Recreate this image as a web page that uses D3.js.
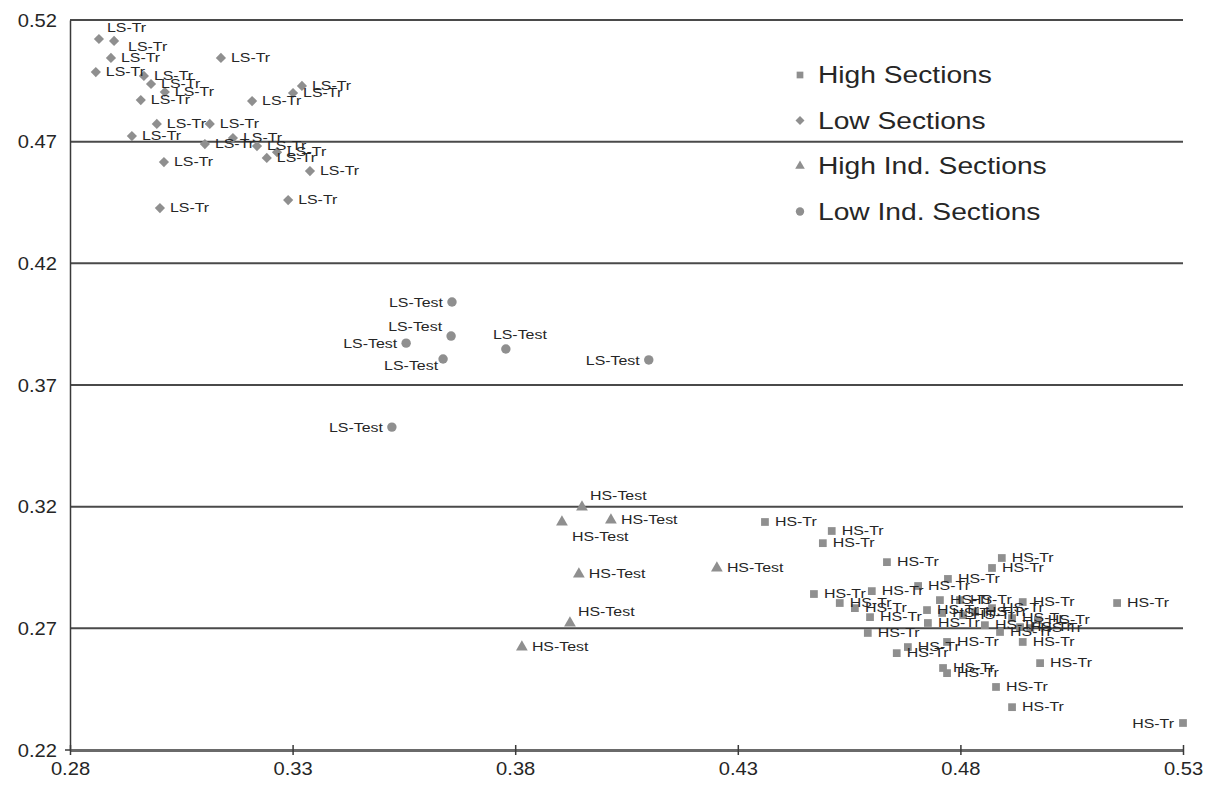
<!DOCTYPE html>
<html>
<head>
<meta charset="utf-8">
<script src="https://cdn.jsdelivr.net/npm/d3@7"></script>
<style>
  html, body { margin: 0; padding: 0; background: #fff; }
  svg { display: block; }
</style>
</head>
<body>
<svg id="chart" width="1220" height="789"></svg>
<script>
// ---------- DATA ----------
const xTicks = [0.28, 0.33, 0.38, 0.43, 0.48, 0.53];
const yTicks = [0.22, 0.27, 0.32, 0.37, 0.42, 0.47, 0.52];
const xTickLabels = ["0.28", "0.33", "0.38", "0.43", "0.48", "0.53"];
const yTickLabels = ["0.22", "0.27", "0.32", "0.37", "0.42", "0.47", "0.52"];

const seriesNames = ["High Sections", "Low Sections", "High Ind. Sections", "Low Ind. Sections"];
const seriesLabels = ["HS-Tr", "LS-Tr", "HS-Test", "LS-Test"];

// High Sections (HS-Tr)
const highX = [0.4361, 0.4511, 0.4491, 0.4635, 0.4893, 0.4871, 0.4772, 0.4471, 0.4601, 0.4705,
               0.4529, 0.4563, 0.4597, 0.4725, 0.4754, 0.4759, 0.4806, 0.4871, 0.4940, 0.5152,
               0.4916, 0.4934, 0.4974, 0.4592, 0.4727, 0.4770, 0.4889, 0.4940, 0.4682, 0.4657,
               0.4761, 0.4770, 0.4979, 0.4880, 0.4916, 0.5300, 0.4799, 0.4833, 0.4855, 0.4957];
const highY = [0.3137, 0.3100, 0.3050, 0.2972, 0.2989, 0.2948, 0.2903, 0.2841, 0.2853, 0.2874,
               0.2804, 0.2783, 0.2746, 0.2775, 0.2816, 0.2763, 0.2754, 0.2783, 0.2808, 0.2804,
               0.2742, 0.2705, 0.2734, 0.2681, 0.2722, 0.2644, 0.2685, 0.2644, 0.2623, 0.2598,
               0.2537, 0.2516, 0.2557, 0.2459, 0.2376, 0.2311, 0.2816, 0.2767, 0.2713, 0.2701];
const highLabelSide = highX.map((v, i) => i === 35 ? "left" : "right");

// Low Sections (LS-Tr)
const lowX = [0.2865, 0.2899, 0.2892, 0.2858, 0.2982, 0.3013, 0.2966, 0.2959, 0.3139, 0.3209,
              0.3321, 0.3301, 0.2995, 0.3114, 0.2939, 0.3103, 0.3166, 0.3220, 0.3265, 0.3242,
              0.3339, 0.3011, 0.3290, 0.3002];
const lowY = [0.5122, 0.5114, 0.5044, 0.4986, 0.4937, 0.4904, 0.4970, 0.4871, 0.5044, 0.4867,
              0.4929, 0.4900, 0.4773, 0.4773, 0.4723, 0.4690, 0.4715, 0.4682, 0.4657, 0.4633,
              0.4579, 0.4616, 0.4460, 0.4427];
const lowLabelSide = lowX.map((v, i) => i === 0 ? "above" : (i === 1 ? "rightLow" : "right"));

// High Ind. Sections (HS-Test)
const highIndX = [0.3950, 0.3905, 0.4015, 0.3943, 0.4253, 0.3923, 0.3815];
const highIndY = [0.3198, 0.3137, 0.3145, 0.2923, 0.2948, 0.2722, 0.2623];
const highIndLabelSide = ["above", "below", "right", "right", "right", "above", "right"];

// Low Ind. Sections (LS-Test)
const lowIndX = [0.3658, 0.3656, 0.3555, 0.3638, 0.3779, 0.4100, 0.3523];
const lowIndY = [0.4041, 0.3901, 0.3872, 0.3807, 0.3848, 0.3803, 0.3527];
const lowIndLabelSide = ["left", "leftAbove", "left", "leftBelow", "aboveCenter", "left", "left"];

// ---------- CHART ----------
const svg = d3.select("#chart");
const W = 1220, H = 789;
const m = { left: 70, right: 37, top: 20, bottom: 39 };
const x = d3.scaleLinear().domain([0.28, 0.53]).range([m.left, W - m.right]);
const y = d3.scaleLinear().domain([0.22, 0.52]).range([H - m.bottom, m.top]);

const markerFill = "#8f8f8f";
const textColor = "#262626";
const font = "'Liberation Sans', Arial, Helvetica, sans-serif";
const stretch = 1.18; // horizontal stretch of the reference's text

function placeText(sel, px, py, anchor, size, sx) {
  sel.attr("transform", `translate(${px},${py}) scale(${sx},1)`)
     .attr("x", 0).attr("y", 0)
     .attr("text-anchor", anchor)
     .attr("font-family", font)
     .attr("font-size", size)
     .attr("fill", textColor);
}

// gridlines
svg.append("g")
  .selectAll("line")
  .data(yTicks.slice(1))
  .join("line")
  .attr("x1", x(0.28)).attr("x2", x(0.53))
  .attr("y1", d => y(d)).attr("y2", d => y(d))
  .attr("stroke", "#4a4a4a").attr("stroke-width", 2);

// y axis
const yAxis = d3.axisLeft(y).tickValues(yTicks).tickFormat((d, i) => yTickLabels[i]).tickSize(0).tickPadding(0);
const gy = svg.append("g").attr("transform", `translate(${m.left},0)`).call(yAxis);
gy.select(".domain").attr("stroke", "#3a3a3a").attr("stroke-width", 1.5);
gy.selectAll(".tick text").each(function () {
  placeText(d3.select(this), -13, 0, "end", 18, 1.12);
  d3.select(this).attr("dy", "0.35em");
});

// x axis
const xAxis = d3.axisBottom(x).tickValues(xTicks).tickFormat((d, i) => xTickLabels[i]).tickSizeInner(5).tickSizeOuter(0).tickPadding(6);
const gx = svg.append("g").attr("transform", `translate(0,${y(0.22)})`).call(xAxis);
gx.select(".domain").attr("stroke", "#6a6a6a").attr("stroke-width", 3);
gx.selectAll(".tick line").attr("stroke", "#3a3a3a").attr("stroke-width", 1.5).attr("y1", -5);
gx.selectAll(".tick text").each(function () {
  placeText(d3.select(this), 0, 12, "middle", 18, 1.12);
  d3.select(this).attr("dy", "0.71em");
});
// y tick at 0.22
svg.append("line").attr("x1", m.left - 5).attr("x2", m.left).attr("y1", y(0.22)).attr("y2", y(0.22))
  .attr("stroke", "#3a3a3a").attr("stroke-width", 1.5);

// series
const series = [
  { xs: highX, ys: highY, sides: highLabelSide, label: seriesLabels[0], sym: d3.symbolSquare, size: 60, rot: 0 },
  { xs: lowX, ys: lowY, sides: lowLabelSide, label: seriesLabels[1], sym: d3.symbolSquare, size: 52, rot: 45 },
  { xs: highIndX, ys: highIndY, sides: highIndLabelSide, label: seriesLabels[2], sym: d3.symbolTriangle, size: 60, rot: 0 },
  { xs: lowIndX, ys: lowIndY, sides: lowIndLabelSide, label: seriesLabels[3], sym: d3.symbolCircle, size: 70, rot: 0 }
];

const labelOffset = {
  right:       { dx: 10,  dy: 4,   anchor: "start" },
  rightLow:    { dx: 14,  dy: 10,  anchor: "start" },
  left:        { dx: -9,  dy: 5,   anchor: "end" },
  leftAbove:   { dx: -9,  dy: -5,  anchor: "end" },
  leftBelow:   { dx: -5,  dy: 11,  anchor: "end" },
  above:       { dx: 8,   dy: -7,  anchor: "start" },
  below:       { dx: 10,  dy: 19,  anchor: "start" },
  aboveCenter: { dx: 14,  dy: -10, anchor: "middle" }
};

series.forEach(s => {
  const pts = s.xs.map((v, i) => ({ x: v, y: s.ys[i], side: s.sides[i] }));
  const g = svg.append("g");
  g.selectAll("path")
    .data(pts)
    .join("path")
    .attr("transform", d => `translate(${x(d.x)},${y(d.y)}) rotate(${s.rot})`)
    .attr("d", d3.symbol().type(s.sym).size(s.size))
    .attr("fill", markerFill);
  g.selectAll("text")
    .data(pts)
    .join("text")
    .text(s.label)
    .each(function (d) {
      const o = labelOffset[d.side];
      placeText(d3.select(this), x(d.x) + o.dx, y(d.y) + o.dy, o.anchor, 13.5, stretch);
    });
});

// legend
const legend = svg.append("g").attr("transform", "translate(800,75)");
const legSyms = [d3.symbolSquare, d3.symbolSquare, d3.symbolTriangle, d3.symbolCircle];
const legRot = [0, 45, 0, 0];
const legSizes = [45, 40, 40, 55];
seriesNames.forEach((name, i) => {
  const row = legend.append("g").attr("transform", `translate(0,${i * 45.5})`);
  row.append("path").attr("d", d3.symbol().type(legSyms[i]).size(legSizes[i]))
    .attr("transform", `rotate(${legRot[i]})`).attr("fill", markerFill);
  placeText(row.append("text").text(name), 18, 8, "start", 23.5, 1.2);
});
</script>
</body>
</html>
